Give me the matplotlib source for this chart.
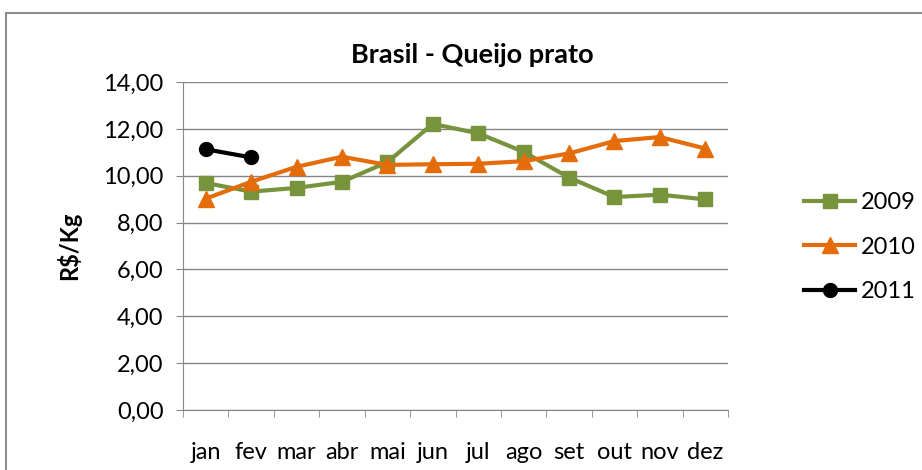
import numpy as np
import matplotlib.pyplot as plt
from matplotlib.patches import Rectangle

plt.rcParams['font.family'] = ['Lato', 'DejaVu Sans']

months = ["jan", "fev", "mar", "abr", "mai", "jun", "jul", "ago", "set", "out", "nov", "dez"]
v2009 = [9.69, 9.32, 9.48, 9.74, 10.58, 12.21, 11.81, 11.02, 9.92, 9.09, 9.19, 8.99]
v2010 = [9.02, 9.74, 10.38, 10.81, 10.46, 10.49, 10.51, 10.62, 10.95, 11.48, 11.65, 11.16]
v2011 = [11.13, 10.78]

GREEN = "#77933C"
ORANGE = "#E46C0A"
GRID = "#868686"
FS = 17

fig = plt.figure(figsize=(9.22, 4.70), dpi=100)
ax = fig.add_axes([183 / 922, 1 - 410 / 470, (728 - 183) / 922, (410 - 82) / 470])

x = np.arange(len(months))
ax.plot(x, v2009, color=GREEN, lw=3, marker="s", ms=10, label="2009", zorder=3)
ax.plot(x, v2010, color=ORANGE, lw=3, marker="^", ms=11, label="2010", zorder=3)
ax.plot(x[:len(v2011)], v2011, color="black", lw=3, marker="o", ms=10, label="2011", zorder=3)

ax.set_xlim(-0.5, len(months) - 0.5)
ax.set_ylim(0, 14)
ax.set_yticks(np.arange(0, 15, 2))
ax.set_yticklabels([f"{v:.2f}".replace(".", ",") for v in np.arange(0, 15, 2)], fontsize=FS)
ax.yaxis.grid(True, color=GRID, lw=1)
ax.set_axisbelow(True)

ax.set_xticks(x)
ax.set_xticklabels(months, fontsize=FS)
ax.set_xticks(np.arange(-0.5, len(months)), minor=True)
ax.tick_params(axis="x", which="major", length=0, pad=23)
ax.tick_params(axis="x", which="minor", length=5, color=GRID)
ax.tick_params(axis="y", length=5, color=GRID, pad=9)

for s in ["top", "right"]:
    ax.spines[s].set_visible(False)
for s in ["left", "bottom"]:
    ax.spines[s].set_color(GRID)

ax.set_ylabel("R$/Kg", fontsize=FS, fontweight="bold", labelpad=16)
fig.text(472 / 922, 1 - 55 / 470, "Brasil - Queijo prato", ha="center", va="center",
         fontsize=19.5, fontweight="bold")

fig.legend(loc="center left", bbox_to_anchor=(783 / 922, 1 - 247 / 470), frameon=False,
           fontsize=FS, handlelength=2.15, labelspacing=1.0, handletextpad=0.25)

fig.patches.append(Rectangle((6 / 922, -0.1), 1.2, 1.1 - 13 / 470, transform=fig.transFigure,
                             fill=False, edgecolor="#8c8c8c", lw=1.5))

fig.savefig("out.png", dpi=100)
